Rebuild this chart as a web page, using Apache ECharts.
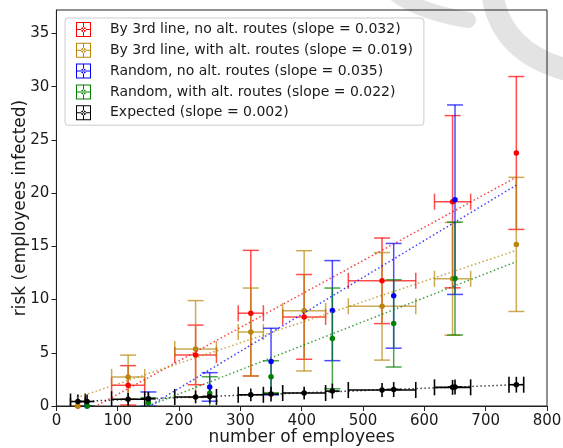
<!DOCTYPE html>
<html><head><meta charset="utf-8">
<script src="https://cdn.jsdelivr.net/npm/echarts@6/dist/echarts.min.js"></script>
<style>html,body{margin:0;padding:0;background:#fff}#c{width:563px;height:448px}</style>
</head><body><div id="c"></div>
<script>
// ---------- data ----------
const xTicks = [0,100,200,300,400,500,600,700,800];
const yTicks = [0,5,10,15,20,25,30,35];

const seriesNames = [
  'By 3rd line, no alt. routes (slope = 0.032)',
  'By 3rd line, with alt. routes (slope = 0.019)',
  'Random, no alt. routes (slope = 0.035)',
  'Random, with alt. routes (slope = 0.022)',
  'Expected (slope = 0.002)'
];

// "By 3rd line" groups
const lineX    = [35, 117, 227, 317, 404, 531, 646, 750];
const lineXErr = [12, 27, 34, 20.5, 35, 55, 29.5, 0];
const redY     = [0, 1.94, 4.8, 8.72, 8.37, 11.76, 19.19, 23.77];
const redYErr  = [0, 1.85, 2.8, 5.9, 3.98, 4.02, 8.09, 7.18];
const goldY    = [0, 2.73, 5.35, 6.95, 8.94, 9.36, 11.95, 15.18];
const goldYErr = [0, 2.05, 4.55, 4.13, 5.65, 5.05, 5.3, 6.3];

// "Random" groups
const randX     = [50, 150, 250, 350, 450, 550, 650];
const blueY     = [0, 0.65, 1.79, 4.17, 8.96, 10.35, 19.38];
const blueYErr  = [0, 0.67, 1.34, 3.13, 4.7, 4.92, 8.9];
const greenY    = [0, 0.3, 1.2, 2.75, 6.35, 7.76, 11.97];
const greenYErr = [0, 0.48, 1.55, 1.5, 4.73, 4.1, 5.3];

// Expected
const expLineY    = [0.42, 0.63, 0.85, 1.05, 1.22, 1.5, 1.75, 2.0];
const expLineXErr = [12, 27, 34, 20.5, 35, 55, 29.5, 12];
const expLineYErr = [0.65, 0.6, 0.6, 0.6, 0.6, 0.65, 0.7, 0.74];
const expRandY    = [0.42, 0.68, 0.9, 1.12, 1.4, 1.55, 1.78];
const expRandXErr = [12, 12, 12, 13, 12, 12, 12];
const expRandYErr = [0.65, 0.65, 0.65, 0.7, 0.7, 0.7, 0.7];

// fitted lines (end points)
const fitX     = [33, 750];
const fitRed   = [-1.0, 21.5];
const fitGold  = [0.78, 14.62];
const fitBlue  = [-4.13, 20.75];
const fitGreen = [-2.64, 13.56];
const fitBlack = [0.42, 2.0];

// ---------- styling ----------
const FONT = 'DejaVu Sans';
const TXT = '#1a1a1a';
const colors = ['#ff0000', '#b8860b', '#0000ff', '#008000', '#000000'];

function rows(xs, ys, xe, ye) { return xs.map((x, i) => [x, ys[i], xe ? xe[i] : 0, ye[i]]); }

function errSeries(data, color, o) {
  return {
    type: 'custom', name: 'err', clip: true, silent: true,
    data: data,
    encode: {x: 0, y: 1},
    renderItem: function (params, api) {
      const x = api.value(0), y = api.value(1), xe = api.value(2), ye = api.value(3);
      const c = api.coord([x, y]);
      const st = {stroke: color, lineWidth: o.lw, opacity: o.alpha, fill: null};
      const ch = [];
      const cap = o.cap;
      if (ye > 0) {
        const t = api.coord([x, y + ye]), b = api.coord([x, y - ye]);
        ch.push({type: 'line', shape: {x1: c[0], y1: t[1], x2: c[0], y2: b[1]}, style: st});
        if (o.yCaps) {
          ch.push({type: 'line', shape: {x1: c[0] - cap, y1: t[1], x2: c[0] + cap, y2: t[1]}, style: st});
          ch.push({type: 'line', shape: {x1: c[0] - cap, y1: b[1], x2: c[0] + cap, y2: b[1]}, style: st});
        }
      } else if (o.yCaps) {
        ch.push({type: 'line', shape: {x1: c[0] - cap, y1: c[1], x2: c[0] + cap, y2: c[1]}, style: st});
      }
      if (xe > 0) {
        const l = api.coord([x - xe, y]), r = api.coord([x + xe, y]);
        ch.push({type: 'line', shape: {x1: l[0], y1: c[1], x2: r[0], y2: c[1]}, style: st});
        if (o.xCaps) {
          ch.push({type: 'line', shape: {x1: l[0], y1: c[1] - cap, x2: l[0], y2: c[1] + cap}, style: st});
          ch.push({type: 'line', shape: {x1: r[0], y1: c[1] - cap, x2: r[0], y2: c[1] + cap}, style: st});
        }
      }
      return {type: 'group', children: ch};
    }
  };
}
function dotSeries(name, xs, ys, color, size) {
  return {
    type: 'scatter', name: name, data: xs.map((x, i) => [x, ys[i]]),
    symbol: 'circle', symbolSize: size, itemStyle: {color: color, opacity: 1},
    silent: true
  };
}
function fitSeries(ys, color) {
  return {
    type: 'line', name: 'fit', data: fitX.map((x, i) => [x, ys[i]]),
    symbol: 'none', silent: true, clip: true,
    lineStyle: {color: color, width: 1.5, type: [1.5, 2.5], opacity: 0.75}
  };
}

const icon = 'path://M0,0H30V2H0Z M0,28H30V30H0Z M0,0H2V30H0Z M28,0H30V30H28Z M0,14H30V16H0Z M14,0H16V30H14Z M10,15A5,5 0 1,0 20,15A5,5 0 1,0 10,15Z';

const colErr = {lw: 1.5, alpha: 0.7, cap: 8, xCaps: true, yCaps: true};
const randErr = {lw: 1.5, alpha: 0.7, cap: 8, xCaps: false, yCaps: true};

const series = [
  errSeries(rows(lineX, redY, lineXErr, redYErr), colors[0], colErr),
  dotSeries(seriesNames[0], lineX, redY, colors[0], 5.5),
  errSeries(rows(lineX, goldY, lineXErr, goldYErr), colors[1], colErr),
  dotSeries(seriesNames[1], lineX, goldY, colors[1], 5.5),
  errSeries(rows(randX, blueY, null, blueYErr), colors[2], randErr),
  dotSeries(seriesNames[2], randX, blueY, colors[2], 5.5),
  errSeries(rows(randX, greenY, null, greenYErr), colors[3], randErr),
  dotSeries(seriesNames[3], randX, greenY, colors[3], 5.5),
  errSeries(rows(lineX, expLineY, expLineXErr, expLineYErr), colors[4], {lw: 1.6, alpha: 1, cap: 8, xCaps: true, yCaps: false}),
  errSeries(rows(randX, expRandY, expRandXErr, expRandYErr), colors[4], {lw: 1.6, alpha: 1, cap: 8, xCaps: false, yCaps: false}),
  dotSeries(seriesNames[4], lineX, expLineY, colors[4], 5.5),
  dotSeries(seriesNames[4], randX, expRandY, colors[4], 5.5),
  fitSeries(fitRed, colors[0]),
  fitSeries(fitGold, colors[1]),
  fitSeries(fitBlue, colors[2]),
  fitSeries(fitGreen, colors[3]),
  fitSeries(fitBlack, colors[4])
];

const chart = echarts.init(document.getElementById('c'), null, {renderer: 'canvas'});
chart.setOption({
  animation: false,
  backgroundColor: '#ffffff',
  textStyle: {fontFamily: FONT},
  graphic: {elements: [
    {type: 'bezierCurve', z: -5, silent: true,
     shape: {x1: 396, y1: -6, x2: 468, y2: 20, cpx1: 420, cpy1: 12},
     style: {stroke: '#e3e3e3', lineWidth: 16, fill: null, lineCap: 'round'}},
    {type: 'bezierCurve', z: -5, silent: true,
     shape: {x1: 492, y1: -8, x2: 575, y2: 72, cpx1: 500, cpy1: 55},
     style: {stroke: '#e3e3e3', lineWidth: 22, fill: null, lineCap: 'round'}}
  ]},
  grid: {left: 56.4, right: 16, top: 10, bottom: 42, show: true, borderColor: '#222', borderWidth: 1,
         backgroundColor: 'transparent', outerBoundsMode: 'none', containLabel: false},
  legend: {
    orient: 'vertical', left: 65, top: 18,
    itemWidth: 15, itemHeight: 15, itemGap: 5.8,
    padding: [4, 11, 5, 11],
    backgroundColor: 'rgba(255,255,255,0.85)', borderColor: '#cccccc', borderWidth: 1, borderRadius: 3,
    selectedMode: false,
    textStyle: {fontFamily: FONT, fontSize: 14, color: TXT, padding: [0, 0, 0, 14]},
    data: seriesNames.map(n => ({name: n, icon: icon}))
  },
  xAxis: {
    type: 'value', min: xTicks[0], max: xTicks[xTicks.length - 1], interval: 100,
    name: 'number of employees', nameLocation: 'middle', nameGap: 23, nameMoveOverlap: false,
    nameTextStyle: {fontFamily: FONT, fontSize: 17, color: TXT},
    axisLine: {lineStyle: {color: '#222', width: 1}},
    axisTick: {length: 5, lineStyle: {color: '#222'}},
    axisLabel: {fontFamily: FONT, fontSize: 15, color: TXT, margin: 8,
      formatter: v => xTicks.indexOf(v) >= 0 ? String(v) : ''},
    splitLine: {show: false}
  },
  yAxis: {
    type: 'value', min: yTicks[0], max: 37.2, interval: 5,
    name: 'risk (employees infected)', nameLocation: 'middle', nameGap: 27, nameMoveOverlap: false,
    nameTextStyle: {fontFamily: FONT, fontSize: 17, color: TXT},
    axisLine: {show: true, lineStyle: {color: '#222', width: 1}},
    axisTick: {length: 5, lineStyle: {color: '#222'}},
    axisLabel: {fontFamily: FONT, fontSize: 15, color: TXT, margin: 7, showMaxLabel: false,
      formatter: v => yTicks.indexOf(v) >= 0 ? String(v) : ''},
    splitLine: {show: false}
  },
  series: series
});
</script>
</body></html>
